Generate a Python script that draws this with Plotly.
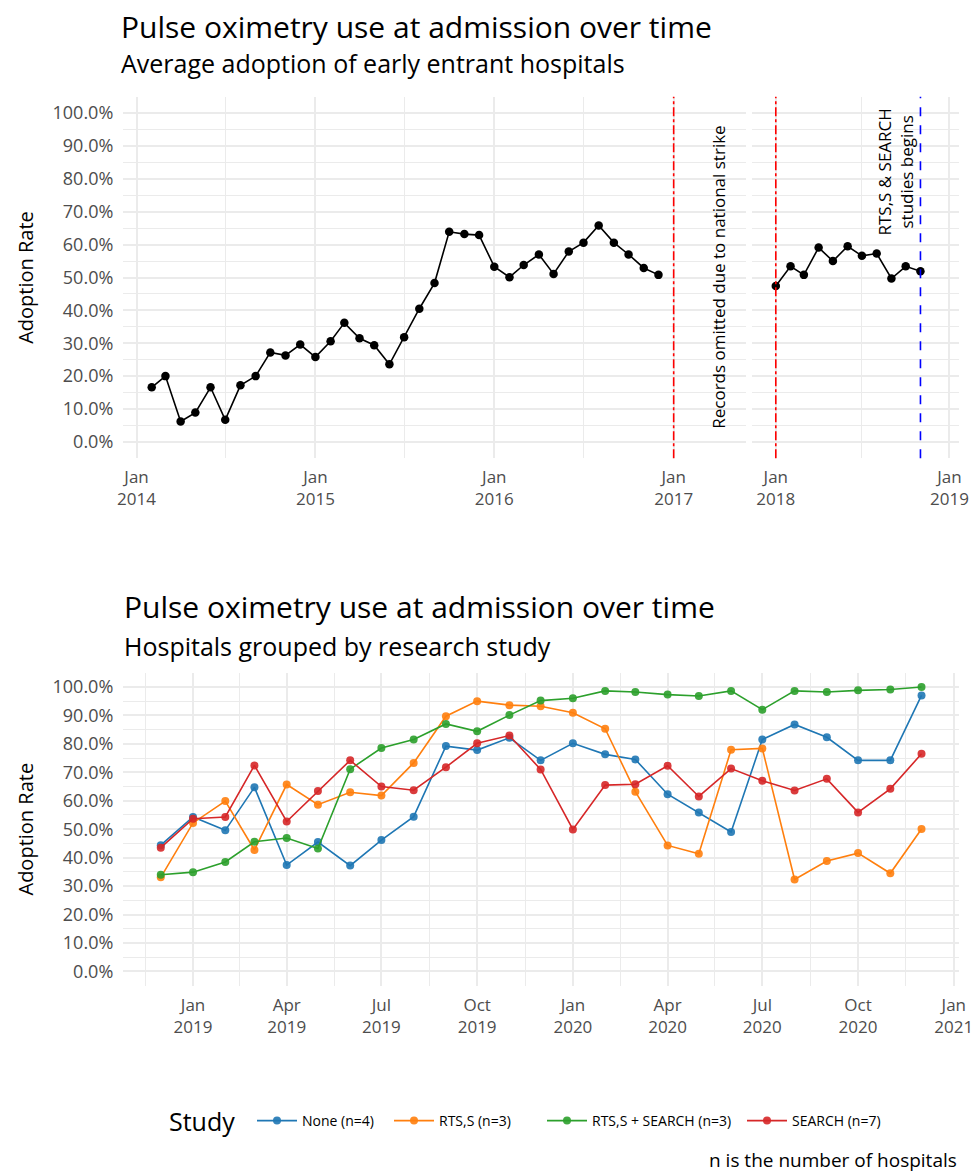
import pandas as pd
import plotly.graph_objects as go

# ---------------- data ----------------
months_pre = pd.date_range("2014-02-01", "2016-12-01", freq="MS")
rate_pre = [16.6, 20.0, 6.2, 8.9, 16.6, 6.7, 17.2, 20.0, 27.2, 26.3, 29.6,
            25.8, 30.6, 36.2, 31.5, 29.4, 23.6, 31.8, 40.5, 48.3, 63.9, 63.2, 62.9,
            53.3, 50.1, 53.8, 57.0, 51.1, 57.9, 60.6, 65.8, 60.6, 57.0, 52.9, 50.8]
months_post = pd.date_range("2018-01-01", "2018-11-01", freq="MS")
rate_post = [47.4, 53.4, 50.8, 59.1, 55.0, 59.5, 56.6, 57.3, 49.7, 53.4, 51.9]

strike_start = "2017-01-01"
strike_end = "2018-01-01"
studies_begin = "2018-11-01"
strike_label_x = "2017-04-02"
studies_label_x = "2018-09-09"

months_study = pd.date_range("2018-12-01", "2020-12-01", freq="MS")
study_names = ["None (n=4)", "RTS,S (n=3)", "RTS,S + SEARCH (n=3)", "SEARCH (n=7)"]
study_colors = ["#1f77b4", "#ff7f0e", "#2ca02c", "#d62728"]
none_rate = [44.4, 54.3, 49.6, 64.7, 37.4, 45.5, 37.2, 46.2, 54.4, 79.2, 77.8, 82.1,
             74.2, 80.2, 76.3, 74.5, 62.3, 55.9, 49.0, 81.5, 86.8, 82.3, 74.2, 74.2, 97.0]
rtss_rate = [33.1, 52.2, 59.9, 42.7, 65.7, 58.6, 63.0, 61.8, 73.3, 89.7, 95.0, 93.6,
             93.2, 90.9, 85.3, 63.2, 44.3, 41.4, 77.9, 78.4, 32.3, 38.8, 41.6, 34.5, 50.1]
rtss_search_rate = [34.0, 34.9, 38.5, 45.6, 46.9, 43.2, 71.1, 78.5, 81.5, 87.0, 84.4, 90.1,
                    95.2, 96.0, 98.6, 98.2, 97.3, 96.8, 98.6, 92.0, 98.6, 98.2, 98.8, 99.1, 100.0]
search_rate = [43.5, 53.7, 54.3, 72.4, 52.7, 63.4, 74.2, 65.0, 63.7, 71.8, 80.2, 82.9,
               71.0, 49.9, 65.5, 65.8, 72.3, 61.5, 71.3, 67.0, 63.6, 67.7, 55.9, 64.2, 76.5]
study_rates = [none_rate, rtss_rate, rtss_search_rate, search_rate]

# ---------------- figure ----------------
W, H = 978, 1176
FONT = "Open Sans"
TICK_COL = "#4d4d4d"
GRID = "#ebebeb"

fig = go.Figure()

fig.add_trace(go.Scatter(x=months_pre, y=rate_pre, mode="lines+markers",
                         line=dict(color="black", width=1.6),
                         marker=dict(color="black", size=8.5),
                         showlegend=False, xaxis="x", yaxis="y"))
fig.add_trace(go.Scatter(x=months_post, y=rate_post, mode="lines+markers",
                         line=dict(color="black", width=1.6),
                         marker=dict(color="black", size=8.5),
                         showlegend=False, xaxis="x2", yaxis="y2"))

legend_ids = ["legend", "legend2", "legend3", "legend4"]
for name, col, vals, lg in zip(study_names, study_colors, study_rates, legend_ids):
    fig.add_trace(go.Scatter(x=months_study, y=vals, mode="lines+markers", name=name,
                             line=dict(color=col, width=1.6),
                             marker=dict(color=col, size=8, opacity=0.9),
                             xaxis="x3", yaxis="y3", legend=lg))

def px_x(p):
    return p / W

def px_y(p):
    return (H - p) / H

xtickfont = dict(family=FONT, size=17, color=TICK_COL)
ytickfont = dict(family=FONT, size=18, color=TICK_COL)

yax_common = dict(range=[-5, 105], dtick=10, tick0=0, ticksuffix="%", tickformat=".1f",
                  showgrid=True, gridcolor=GRID, gridwidth=1.5, zeroline=False,
                  showline=False, ticks="", tickfont=ytickfont, automargin=False,
                  ticklabelstandoff=9,
                  minor=dict(dtick=5, tick0=0, showgrid=True, gridcolor=GRID, gridwidth=0.8))

xax_common = dict(type="date", showgrid=True, gridcolor=GRID, gridwidth=1.5, zeroline=False,
                  showline=False, ticks="", tickfont=xtickfont, automargin=False,
                  ticklabelstandoff=7, tickformat="%b<br>%Y")

# quarter midpoints for minor grid of bottom panel
quarters = pd.date_range("2018-10-01", "2021-01-01", freq="QS")
quarter_mid = [a + (b - a) / 2 for a, b in zip(quarters[:-1], quarters[1:])]

ytitle = dict(text="Adoption Rate", font=dict(family=FONT, size=20, color="black"), standoff=13)

legend_style = dict(orientation="h", xanchor="left", y=px_y(1121), yanchor="middle",
                    font=dict(family=FONT, size=14, color="black"), itemwidth=40,
                    bgcolor="rgba(0,0,0,0)")
legend_left_px = [252, 389, 542, 742]

fig.update_layout(
    width=W, height=H,
    margin=dict(l=0, r=0, t=0, b=0),
    paper_bgcolor="white", plot_bgcolor="white",
    font=dict(family=FONT, color="black"),
    xaxis=dict(xax_common, domain=[px_x(123.3), px_x(745.7)],
               range=["2013-12-05", "2017-05-28"], dtick="M12", tick0="2014-01-01",
               anchor="y",
               minor=dict(dtick="M6", tick0="2014-01-01", showgrid=True, gridcolor=GRID, gridwidth=0.8)),
    xaxis2=dict(xax_common, domain=[px_x(752), px_x(959)],
                range=["2017-11-12", "2019-01-21"], dtick="M12", tick0="2018-01-01",
                anchor="y2",
                minor=dict(dtick="M6", tick0="2018-01-01", showgrid=True, gridcolor=GRID, gridwidth=0.8)),
    xaxis3=dict(xax_common, domain=[px_x(123.3), px_x(959)],
                range=["2018-10-26", "2021-01-06"], dtick="M3", tick0="2019-01-01",
                anchor="y3",
                minor=dict(tickmode="array", tickvals=quarter_mid, showgrid=True,
                           gridcolor=GRID, gridwidth=0.8)),
    yaxis=dict(yax_common, domain=[px_y(458.3), px_y(96.7)], anchor="x", title=ytitle),
    yaxis2=dict(yax_common, domain=[px_y(458.3), px_y(96.7)], anchor="x2", showticklabels=False),
    yaxis3=dict(yax_common, domain=[px_y(985.7), px_y(672.7)], anchor="x3", title=ytitle),
)
for lg, lx in zip(legend_ids, legend_left_px):
    fig.update_layout({lg: dict(legend_style, x=px_x(lx))})

# vertical reference lines
fig.add_shape(type="line", xref="x", yref="y domain", x0=strike_start, x1=strike_start, y0=0, y1=1,
              line=dict(color="red", width=1.6, dash="dashdot"))
fig.add_shape(type="line", xref="x2", yref="y2 domain", x0=strike_end, x1=strike_end, y0=0, y1=1,
              line=dict(color="red", width=1.6, dash="dashdot"))
fig.add_shape(type="line", xref="x2", yref="y2 domain", x0=studies_begin, x1=studies_begin, y0=0, y1=1,
              line=dict(color="blue", width=1.6, dash="dash"))

# text annotations in panels
fig.add_annotation(x=strike_label_x, y=50, xref="x", yref="y", text="Records omitted due to national strike",
                   textangle=-90, showarrow=False, font=dict(family=FONT, size=17, color="black"))
fig.add_annotation(x=studies_label_x, y=82, xref="x2", yref="y2", text="RTS,S & SEARCH<br>studies begins",
                   textangle=-90, showarrow=False, font=dict(family=FONT, size=17, color="black"))

# titles
fig.add_annotation(x=px_x(119), y=px_y(27), xref="paper", yref="paper", xanchor="left", yanchor="middle",
                   text="Pulse oximetry use at admission over time", showarrow=False,
                   font=dict(family=FONT, size=30, color="black"))
fig.add_annotation(x=px_x(119), y=px_y(63), xref="paper", yref="paper", xanchor="left", yanchor="middle",
                   text="Average adoption of early entrant hospitals", showarrow=False,
                   font=dict(family=FONT, size=25, color="black"))
fig.add_annotation(x=px_x(122), y=px_y(606), xref="paper", yref="paper", xanchor="left", yanchor="middle",
                   text="Pulse oximetry use at admission over time", showarrow=False,
                   font=dict(family=FONT, size=30, color="black"))
fig.add_annotation(x=px_x(122), y=px_y(646), xref="paper", yref="paper", xanchor="left", yanchor="middle",
                   text="Hospitals grouped by research study", showarrow=False,
                   font=dict(family=FONT, size=25, color="black"))
# legend title
fig.add_annotation(x=px_x(167), y=px_y(1121), xref="paper", yref="paper", xanchor="left", yanchor="middle",
                   text="Study", showarrow=False, font=dict(family=FONT, size=25, color="black"))
fig.add_annotation(x=px_x(959), y=px_y(1160), xref="paper", yref="paper", xanchor="right", yanchor="middle",
                   text="n is the number of hospitals", showarrow=False,
                   font=dict(family=FONT, size=19, color="black"))

fig.write_html("out.html", config={"displayModeBar": False},
               post_script="document.body.style.margin='0';")
